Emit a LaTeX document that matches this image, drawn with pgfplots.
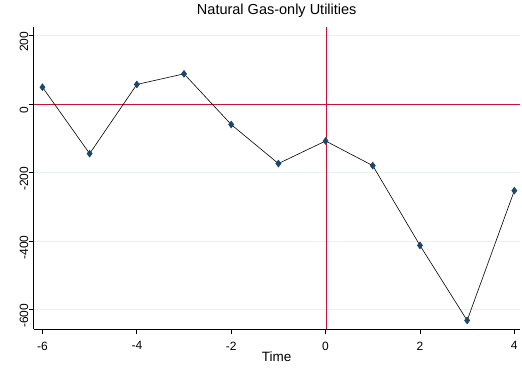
\documentclass[border=0pt]{standalone}
\usepackage{pgfplots}
\pgfplotsset{compat=1.18}
\usepackage{fontspec}
\setmainfont{Liberation Sans}
\definecolor{marknavy}{RGB}{26,71,111}
\definecolor{refred}{RGB}{205,16,58}
\definecolor{gridc}{RGB}{232,240,242}

\begin{document}
\begin{tikzpicture}
\path[use as bounding box] (-33.5pt,-42pt) rectangle (488.5pt,329pt);
\begin{axis}[
  at={(0pt,0pt)}, anchor=south west,
  scale only axis, width=486.5pt, height=302pt,
  xmin=-6.19, xmax=4.12, ymin=-657, ymax=224.8,
  axis x line*=bottom, axis y line*=left,
  axis line style={black, line width=0.9pt},
  xtick={-6,-4,-2,0,2,4},
  ytick={-600,-400,-200,0,200},
  tick align=outside, major tick length=5pt,
  tick style={black, line width=0.8pt},
  ymajorgrids, grid style={gridc, line width=0.9pt},
  /pgf/number format/assume math mode=true,
  ticklabel style={font=\fontsize{12}{14}\selectfont},
  xticklabel style={anchor=north, inner sep=0pt, yshift=-7.5pt},
  yticklabel style={rotate=90, anchor=south, inner sep=0pt, xshift=-6.5pt},
  title={Natural Gas-only Utilities},
  title style={at={(0.5,1)}, anchor=base, yshift=6pt, inner sep=0pt,
    font=\fontsize{14.5}{17}\selectfont},
  xlabel={Time},
  xlabel style={at={(0.5,0)}, anchor=base, yshift=-33pt, inner sep=0pt,
    font=\fontsize{13.5}{16}\selectfont},
  clip=false,
]
% reference lines at zero
\draw[refred, line width=0.9pt] (axis cs:-6.19,0) -- (axis cs:4.12,0);
\draw[refred, line width=1.5pt] (axis cs:0.02,-657) -- (axis cs:0.02,224.8);
% estimated effects by period
\addplot[black, line width=0.6pt, mark=diamond*, mark size=3.4pt,
  mark options={fill=marknavy, draw=marknavy}] coordinates {
  (-6, 49) (-5, -145) (-4, 57) (-3, 88) (-2, -60) (-1, -174)
  (0, -108) (1, -180) (2, -413) (3, -632) (4, -253)
};
\end{axis}
\end{tikzpicture}
\end{document}
